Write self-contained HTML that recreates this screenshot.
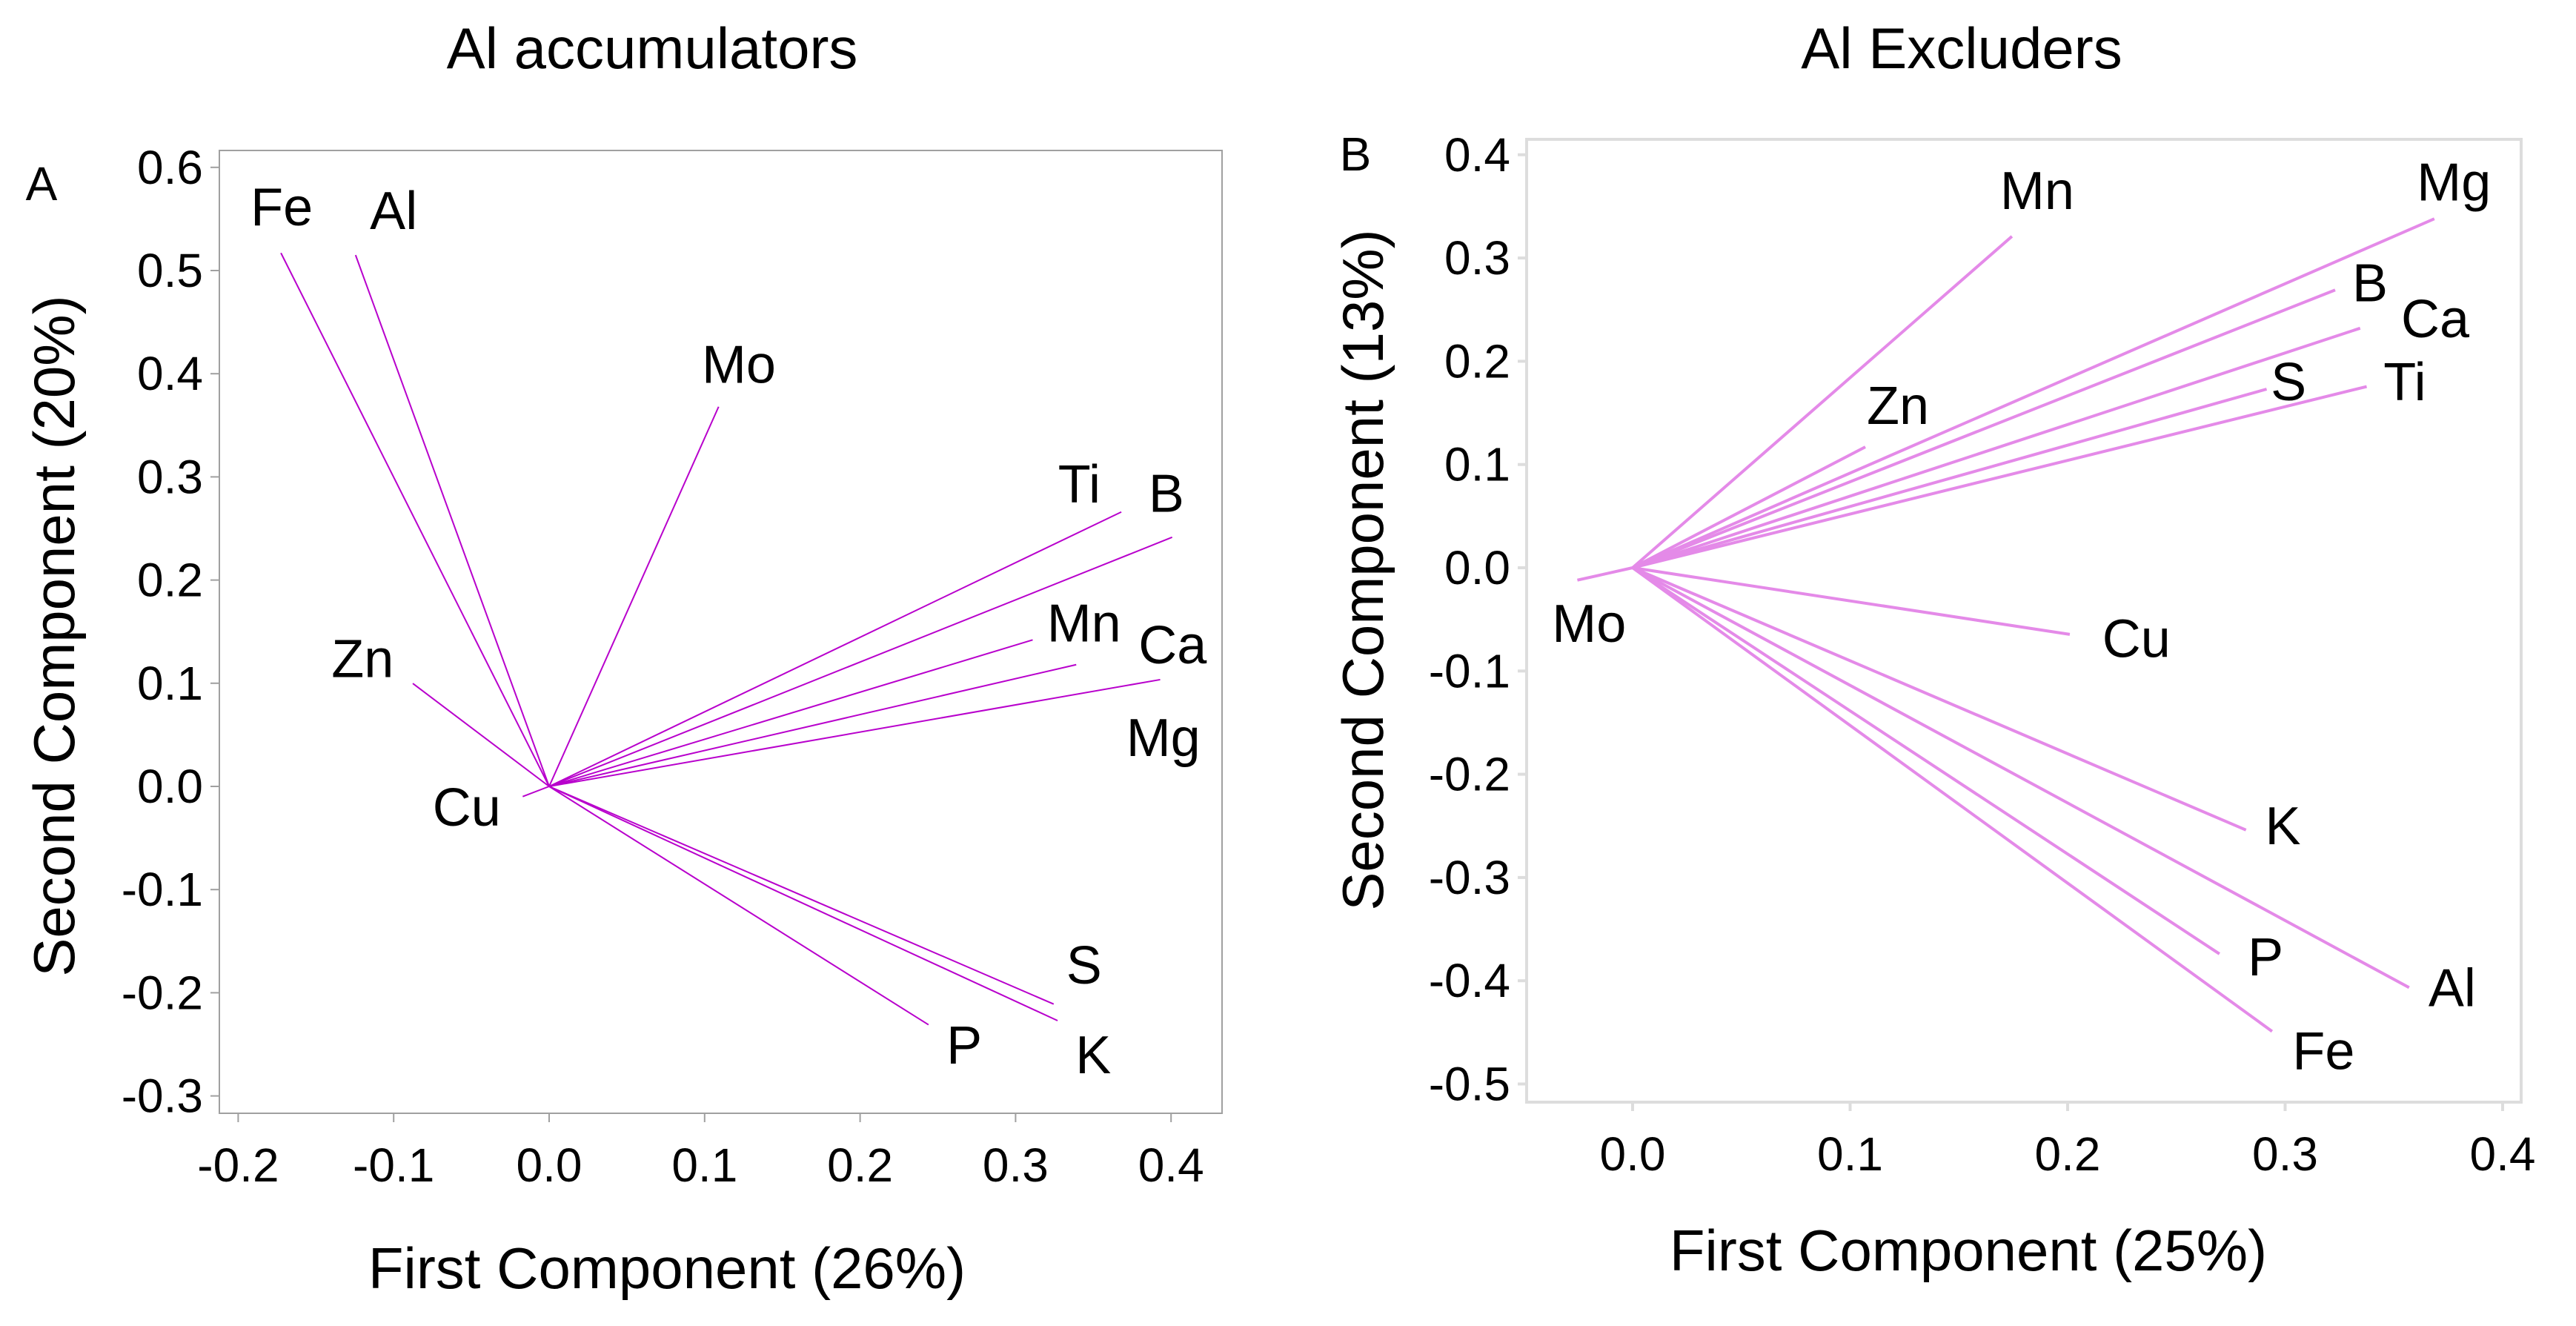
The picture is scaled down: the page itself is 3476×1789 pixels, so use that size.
<!DOCTYPE html>
<html><head><meta charset="utf-8">
<style>
html,body{margin:0;padding:0;background:#fff;}
svg{display:block;font-family:"Liberation Sans",Arial,sans-serif;}
</style></head>
<body>
<svg id="fig" width="3476" height="1789" viewBox="0 0 3476 1789" xmlns="http://www.w3.org/2000/svg">
<rect x="0" y="0" width="3476" height="1789" fill="#fff"/>
<text x="880" y="92" font-size="78" text-anchor="middle">Al accumulators</text>
<text x="2647" y="92" font-size="78" text-anchor="middle">Al Excluders</text>
<text x="56" y="270" font-size="64" text-anchor="middle">A</text>
<text x="1829" y="230" font-size="64" text-anchor="middle">B</text>
<text x="900" y="1738" font-size="78" text-anchor="middle">First Component (26%)</text>
<text x="2656" y="1714" font-size="78" text-anchor="middle">First Component (25%)</text>
<text transform="translate(100,858) rotate(-90)" font-size="78" text-anchor="middle">Second Component (20%)</text>
<text transform="translate(1866,769) rotate(-90)" font-size="78" text-anchor="middle">Second Component (13%)</text>
<g id="panelA"></g>
<g id="panelB"></g>
</svg>
<script>
// Panel A data
const elementsA = ["Fe","Al","Mo","Ti","B","Mn","Ca","Mg","Zn","Cu","S","K","P"];
const pc1A = [-0.1725,-0.1245,0.109,0.368,0.4007,0.311,0.339,0.393,-0.0877,-0.017,0.3245,0.327,0.244];
const pc2A = [0.517,0.515,0.368,0.266,0.2415,0.142,0.118,0.1035,0.0998,-0.0098,-0.211,-0.227,-0.231];
const labelXA = [-0.172,-0.100,0.122,0.341,0.397,0.344,0.401,0.395,-0.120,-0.053,0.344,0.350,0.267];
const labelYA = [0.5626,0.559,0.410,0.294,0.285,0.159,0.138,0.048,0.1245,-0.0195,-0.1725,-0.2595,-0.250];
const xTicksA = [-0.2,-0.1,0.0,0.1,0.2,0.3,0.4];
const xTickLabelsA = ["-0.2","-0.1","0.0","0.1","0.2","0.3","0.4"];
const yTicksA = [0.6,0.5,0.4,0.3,0.2,0.1,0.0,-0.1,-0.2,-0.3];
const yTickLabelsA = ["0.6","0.5","0.4","0.3","0.2","0.1","0.0","-0.1","-0.2","-0.3"];
// Panel B data
const elementsB = ["Mn","Mg","B","Ca","S","Ti","Zn","Mo","Cu","K","P","Al","Fe"];
const pc1B = [0.1744,0.3686,0.323,0.3345,0.2915,0.3375,0.107,-0.0254,0.201,0.282,0.2698,0.357,0.294];
const pc2B = [0.321,0.338,0.269,0.232,0.173,0.1755,0.117,-0.012,-0.0645,-0.254,-0.374,-0.4066,-0.449];
const labelXB = [0.186,0.3776,0.339,0.369,0.3016,0.355,0.122,-0.020,0.2316,0.299,0.291,0.3768,0.3177];
const labelYB = [0.366,0.3743,0.2768,0.242,0.181,0.181,0.158,-0.053,-0.068,-0.249,-0.376,-0.406,-0.467];
const xTicksB = [0.0,0.1,0.2,0.3,0.4];
const xTickLabelsB = ["0.0","0.1","0.2","0.3","0.4"];
const yTicksB = [0.4,0.3,0.2,0.1,0.0,-0.1,-0.2,-0.3,-0.4,-0.5];
const yTickLabelsB = ["0.4","0.3","0.2","0.1","0.0","-0.1","-0.2","-0.3","-0.4","-0.5"];

const NS="http://www.w3.org/2000/svg";
function mk(parent,tag,attrs){const e=document.createElementNS(NS,tag);for(const k in attrs)e.setAttribute(k,attrs[k]);parent.appendChild(e);return e;}

function drawPanel(g,cfg){
  const sx=v=>cfg.x0+v*cfg.px;
  const sy=v=>cfg.y0-v*cfg.py;
  const box=mk(g,'rect',{x:cfg.left,y:cfg.top,width:cfg.right-cfg.left,height:cfg.bottom-cfg.top,fill:'none',stroke:cfg.boxColor,'stroke-width':cfg.boxW});
  
  
  cfg.xt.forEach((v,i)=>{
    const t=mk(g,'line',{x1:sx(v),x2:sx(v),y1:cfg.bottom,y2:cfg.bottom+12,stroke:cfg.boxColor,'stroke-width':cfg.boxW});
    
    
    const l=mk(g,'text',{x:sx(v),y:cfg.bottom+92,'font-size':64,'text-anchor':'middle'});
    l.textContent=cfg.xl[i];
    
    
  });
  cfg.yt.forEach((v,i)=>{
    const t=mk(g,'line',{x1:cfg.left-12,x2:cfg.left,y1:sy(v),y2:sy(v),stroke:cfg.boxColor,'stroke-width':cfg.boxW});
    
    
    const l=mk(g,'text',{x:cfg.left-22,y:sy(v)+22,'font-size':64,'text-anchor':'end'});
    l.textContent=cfg.yl[i];
    
    
  });
  cfg.names.forEach((n,i)=>{
    const ln=mk(g,'line',{x1:sx(0),y1:sy(0),x2:sx(cfg.pc1[i]),y2:sy(cfg.pc2[i]),stroke:cfg.lineColor,'stroke-width':cfg.lineW});
    
    
    const t=mk(g,'text',{x:sx(cfg.lx[i]),y:sy(cfg.ly[i])+26,'font-size':72,'text-anchor':'middle'});
    t.textContent=n;
    
    
  });
}
drawPanel(document.getElementById('panelA'),{
  left:296,right:1649,top:203,bottom:1502,x0:741,px:2098,y0:1061,py:1392,
  boxColor:'#a0a0a0',boxW:2,lineColor:'#b800cc',lineW:2,
  xt:xTicksA,xl:xTickLabelsA,yt:yTicksA,yl:yTickLabelsA,
  names:elementsA,pc1:pc1A,pc2:pc2A,lx:labelXA,ly:labelYA});
drawPanel(document.getElementById('panelB'),{
  left:2060,right:3402,top:188,bottom:1487,x0:2203,px:2935,y0:766,py:1393,
  boxColor:'#dddddd',boxW:4,lineColor:'#e48ae8',lineW:4,
  xt:xTicksB,xl:xTickLabelsB,yt:yTicksB,yl:yTickLabelsB,
  names:elementsB,pc1:pc1B,pc2:pc2B,lx:labelXB,ly:labelYB});
</script>
</body></html>
